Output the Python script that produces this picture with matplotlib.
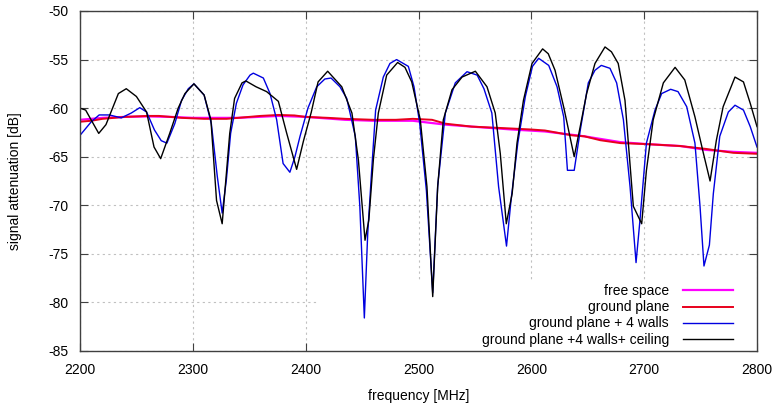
import numpy as np
import matplotlib
matplotlib.use("Agg")
import matplotlib.pyplot as plt
from matplotlib.patches import Rectangle

plt.rcParams['font.family'] = ['Liberation Sans', 'DejaVu Sans']
plt.rcParams['axes.unicode_minus'] = False

# free space
fs_x = [2200, 2220, 2240, 2260, 2280, 2300, 2340, 2376, 2400, 2435, 2460, 2495,
        2524, 2547, 2583, 2612, 2647, 2679, 2702, 2732, 2755, 2779, 2800]
fs_y = [-61.2, -61.0, -60.9, -60.85, -60.9, -61.0, -61.0, -60.8, -60.9, -61.2, -61.3, -61.3,
        -61.7, -61.9, -62.2, -62.4, -62.9, -63.5, -63.7, -63.9, -64.3, -64.5, -64.6]

# ground plane
gp_x = [2200, 2210, 2220, 2230, 2240, 2250, 2260, 2270, 2280, 2290, 2300, 2310, 2320,
        2330, 2340, 2350, 2360, 2376, 2390, 2400, 2420, 2435, 2460, 2480, 2495, 2512,
        2524, 2547, 2583, 2600, 2612, 2636, 2647, 2661, 2679, 2702, 2732, 2755, 2779, 2800]
gp_y = [-61.4, -61.3, -61.1, -61.0, -60.9, -60.85, -60.8, -60.8, -60.9, -61.0, -61.05, -61.1, -61.1,
        -61.1, -61.0, -60.9, -60.8, -60.7, -60.75, -60.9, -61.0, -61.1, -61.2, -61.2, -61.1, -61.2,
        -61.6, -61.9, -62.1, -62.2, -62.3, -62.8, -62.9, -63.3, -63.6, -63.7, -63.9, -64.2, -64.6, -64.7]

# ground plane + 4 walls
w4_x = [2200, 2210, 2217, 2226, 2236.6, 2245.5, 2253, 2259, 2266, 2272, 2277, 2284, 2290,
        2296, 2301, 2310, 2316.4, 2321.7, 2326, 2329.7, 2333.5, 2338.6, 2344.5, 2350.7,
        2353.6, 2362.5, 2368.4, 2374.3, 2380, 2386, 2390.5, 2395, 2402, 2409.8, 2417,
        2422.5, 2430.4, 2436.4, 2444, 2448, 2452, 2455, 2458.5, 2462, 2468.8, 2474.7,
        2480.6, 2491, 2496, 2501, 2507, 2512.6, 2517, 2523.8, 2532.6, 2543, 2552, 2558,
        2565, 2571, 2578, 2582, 2588, 2594.7, 2601, 2606.5, 2615.4, 2622.8, 2628.7, 2632,
        2638, 2643.4, 2650.5, 2656.4, 2662, 2669.7, 2675.6, 2681.6, 2687.5, 2692.8, 2696.3,
        2702, 2709.6, 2715.5, 2723.5, 2730, 2737.7, 2745, 2749.5, 2753, 2757.8, 2761.3,
        2767, 2774.6, 2780.5, 2788, 2794, 2800]
w4_y = [-62.8, -61.4, -60.7, -60.7, -61.0, -60.5, -59.95, -60.4, -62.25, -63.35, -63.6, -61.6, -59.2,
        -58.0, -57.5, -58.65, -61.6, -67.05, -70.8, -67.4, -62.6, -59.5, -57.6, -56.6,
        -56.4, -56.9, -58.5, -61.2, -65.7, -66.6, -65.0, -62.9, -60.0, -57.8, -57.0,
        -56.9, -57.8, -59.0, -62.9, -70.1, -81.6, -72.9, -66.4, -60.2, -56.8, -55.4,
        -55.0, -55.7, -57.8, -61.5, -68.5, -79.0, -68.0, -60.5, -57.4, -56.25, -56.6, -58.0,
        -60.5, -68.1, -74.2, -69.5, -63.6, -58.8, -55.7, -54.87, -55.6, -57.8, -60.9, -66.4,
        -66.4, -62.25, -57.4, -56.1, -55.6, -55.9, -57.4, -61.2, -68.1, -75.9, -71.5,
        -63.6, -60.2, -58.5, -58.06, -58.3, -59.85, -63.6, -70.1, -76.25, -74.1, -68.8,
        -62.9, -60.4, -59.7, -60.2, -61.9, -64.0]

# ground plane + 4 walls + ceiling
wc_x = [2200, 2205, 2216.6, 2223, 2234, 2241, 2250, 2259, 2265.6, 2271.5, 2279.5, 2287,
        2293, 2301, 2310, 2316, 2321, 2326, 2332.7, 2337, 2343.6, 2347, 2356, 2365.4,
        2375.8, 2383, 2392, 2398, 2405, 2411, 2419.5, 2432, 2441, 2446.7, 2452.6, 2456,
        2460, 2464.4, 2471.8, 2481.5, 2488, 2494, 2501.6, 2507.5, 2512.6, 2517, 2522,
        2529.7, 2538.6, 2550.4, 2560.7, 2568, 2572.5, 2577.8, 2583, 2587.3, 2593, 2600.6,
        2610, 2615, 2621, 2628.7, 2638, 2643.5, 2649, 2656.4, 2665.3, 2671, 2677, 2683,
        2690.4, 2697.8, 2702, 2708, 2717, 2727.4, 2736, 2745, 2752.5, 2758.4, 2764, 2770,
        2780.5, 2788, 2794, 2800]
wc_y = [-60.0, -60.2, -62.6, -61.7, -58.5, -58.0, -58.8, -60.4, -64.0, -65.2, -62.6, -60.0,
        -58.5, -57.5, -58.65, -61.2, -69.5, -71.9, -62.6, -59.0, -57.4, -57.2, -57.8, -58.3,
        -59.3, -62.5, -66.3, -63.4, -60.4, -57.3, -56.2, -57.8, -60.5, -65.3, -73.6, -71.5,
        -65.3, -60.5, -56.6, -55.3, -55.8, -57.3, -61.2, -68.1, -79.4, -68.1, -61.2,
        -58.1, -56.8, -56.2, -57.8, -60.5, -64.7, -71.9, -68.8, -63.6, -59.2, -55.4,
        -53.9, -54.4, -56.1, -59.9, -65.0, -61.8, -58.5, -55.4, -53.7, -54.2, -55.4, -59.2,
        -70.1, -71.9, -66.4, -61.2, -57.4, -55.8, -57.1, -60.9, -64.65, -67.5, -63.3, -59.85,
        -56.8, -57.3, -59.5, -61.9]

fig = plt.figure(figsize=(7.79, 4.08), dpi=100)
ax = fig.add_axes([80/779, 57/408, 677/779, 340/408])

ax.plot(fs_x, fs_y, color='#ff00ff', lw=1.6, label='free space', zorder=3)
ax.plot(gp_x, gp_y, color='#e8001c', lw=1.4, label='ground plane', zorder=4)
ax.plot(w4_x, w4_y, color='#0000e0', lw=1.0, label='ground plane + 4 walls', zorder=5)
ax.plot(wc_x, wc_y, color='black', lw=1.0, label='ground plane +4 walls+ ceiling', zorder=6)

ax.set_xlim(2200, 2800)
ax.set_ylim(-85, -50)
ax.set_xticks(np.arange(2200, 2801, 100))
ax.set_yticks(np.arange(-85, -49, 5))
ax.grid(True, color='#c0c0c0', linestyle=(0, (2, 3)), lw=0.8, zorder=1)
ax.set_axisbelow(True)

# white box behind the key hides the grid there
ax.add_patch(Rectangle((2410, -85), 390, 7.3, facecolor='white', edgecolor='none', zorder=2))

ax.tick_params(direction='in', length=6, width=0.8, top=True, right=True,
               labelsize=10, pad=8.5, color='#404040')
for s in ax.spines.values():
    s.set_color('#404040')
    s.set_linewidth(1.0)
    s.set_zorder(7)

ax.set_xlabel('frequency [MHz]', fontsize=10, labelpad=9)
ax.set_ylabel('signal attenuation [dB]', fontsize=10, labelpad=19)

leg = ax.legend(loc='lower right', markerfirst=False, frameon=False, fontsize=10,
                handlelength=3.6, handletextpad=1.0, labelspacing=0.15,
                borderaxespad=0, borderpad=0, bbox_to_anchor=(0.9645, 0.013))
for t in leg.get_texts():
    t.set_ha('right')
leg.set_zorder(8)

fig.savefig('out.png', dpi=100)
